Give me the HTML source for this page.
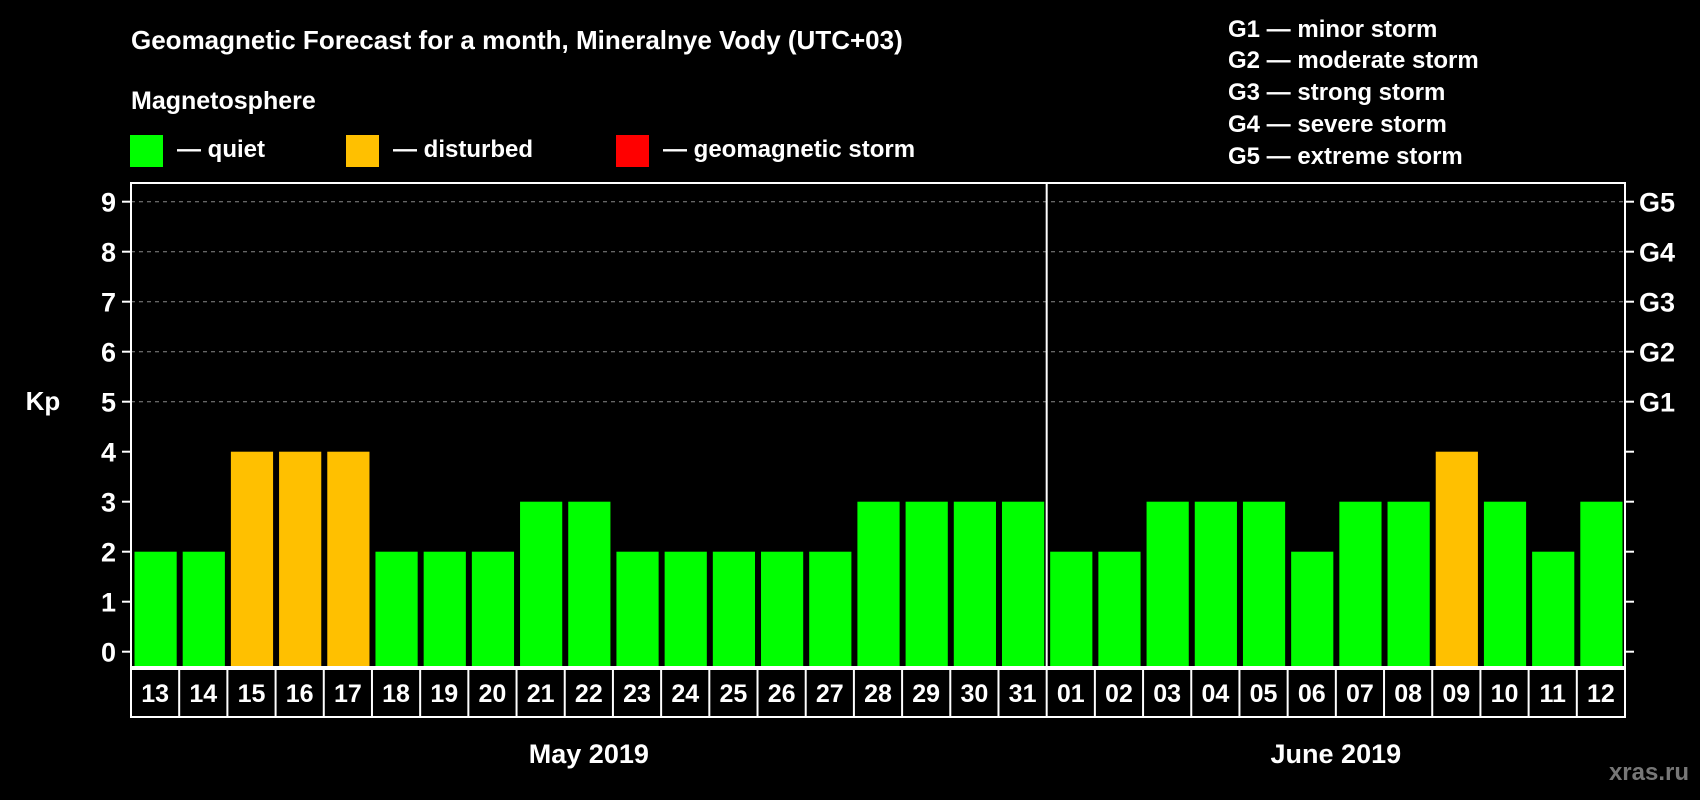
<!DOCTYPE html>
<html><head><meta charset="utf-8"><style>
html,body{margin:0;padding:0;background:#000;width:1700px;height:800px;overflow:hidden}
text{font-family:"Liberation Sans",Arial,sans-serif;font-weight:bold;fill:#fff}
</style></head><body>
<svg id="chart" width="1700" height="800" xmlns="http://www.w3.org/2000/svg">
<rect width="1700" height="800" fill="#000"/>
<text x="131" y="49" font-size="26">Geomagnetic Forecast for a month, Mineralnye Vody (UTC+03)</text>
<text x="131" y="109" font-size="25">Magnetosphere</text>
<rect x="130" y="135" width="33" height="32" fill="#00ff00"/>
<text x="177" y="157" font-size="24">— quiet</text>
<rect x="346" y="135" width="33" height="32" fill="#ffc000"/>
<text x="393" y="157" font-size="24">— disturbed</text>
<rect x="616" y="135" width="33" height="32" fill="#ff0000"/>
<text x="663" y="157" font-size="24">— geomagnetic storm</text>
<g font-size="24">
<text x="1228" y="37">G1 — minor storm</text>
<text x="1228" y="68">G2 — moderate storm</text>
<text x="1228" y="100">G3 — strong storm</text>
<text x="1228" y="132">G4 — severe storm</text>
<text x="1228" y="164">G5 — extreme storm</text>
</g>
<text x="43" y="410" font-size="26" text-anchor="middle">Kp</text>
<text x="1689" y="780" font-size="24" text-anchor="end" style="fill:#777">xras.ru</text>
<g id="plot"></g>
</svg>
<script>
const days=["13","14","15","16","17","18","19","20","21","22","23","24","25","26","27","28","29","30","31","01","02","03","04","05","06","07","08","09","10","11","12"];
const kp=[2,2,4,4,4,2,2,2,3,3,2,2,2,2,2,3,3,3,3,2,2,3,3,3,2,3,3,4,3,2,3];
const yTicks=[0,1,2,3,4,5,6,7,8,9];
const gLabels=["G1","G2","G3","G4","G5"];
const months=["May 2019","June 2019"];
const monthSplit=19;
const NS="http://www.w3.org/2000/svg";
const g=document.getElementById('plot');
const L=131,R=1625,T=183,B=667;
const cw=(R-L)/days.length;
const y=v=>651.7-v*50;
const x=i=>L+i*cw;
function mk(t,a,p){const e=document.createElementNS(NS,t);for(const k in a)e.setAttribute(k,a[k]);(p||g).appendChild(e);return e;}
// grid
yTicks.forEach(v=>{
  if(v>=5){const l=mk('line',{x1:L,x2:R,y1:y(v),y2:y(v),stroke:'#888','stroke-width':1,'stroke-dasharray':'4,4'});
  
  }
  const t1=mk('line',{x1:122,x2:L,y1:y(v),y2:y(v),stroke:'#fff','stroke-width':2});
  
  
  const t2=mk('line',{x1:R,x2:1634,y1:y(v),y2:y(v),stroke:'#fff','stroke-width':2});
  
  
  const lb=mk('text',{x:116,y:y(v)+10,'font-size':27,'text-anchor':'end'});lb.textContent=v;
  
  
});
gLabels.forEach((s,i)=>{
  const t=mk('text',{x:1639,y:y(i+5)+10,'font-size':27});t.textContent=s;
  
  
});
// bars
kp.forEach((v,i)=>{
  const col=v>=5?'#ff0000':(v>=4?'#ffc000':'#00ff00');
  const b=mk('rect',{x:x(i)+3.5,y:y(v),width:cw-6,height:y(0)+15-y(v),fill:col});
  
  
});
// frame
const fr=mk('rect',{x:L,y:T,width:R-L,height:B-T,fill:'none',stroke:'#fff','stroke-width':2});


const dv=mk('line',{x1:x(monthSplit),x2:x(monthSplit),y1:T,y2:B,stroke:'#fff','stroke-width':2});


// date boxes
const bx=mk('rect',{x:L,y:669,width:R-L,height:48,fill:'none',stroke:'#fff','stroke-width':2});


days.forEach((d,i)=>{
  if(i>0){const l=mk('line',{x1:x(i),x2:x(i),y1:669,y2:717,stroke:'#fff','stroke-width':2});
  
  }
  const t=mk('text',{x:x(i)+cw/2,y:702,'font-size':25,'text-anchor':'middle'});t.textContent=d;
  
  
});
const m1=mk('text',{x:(L+x(monthSplit))/2,y:763,'font-size':27,'text-anchor':'middle'});m1.textContent=months[0];


const m2=mk('text',{x:(x(monthSplit)+R)/2,y:763,'font-size':27,'text-anchor':'middle'});m2.textContent=months[1];


</script>
</body></html>
